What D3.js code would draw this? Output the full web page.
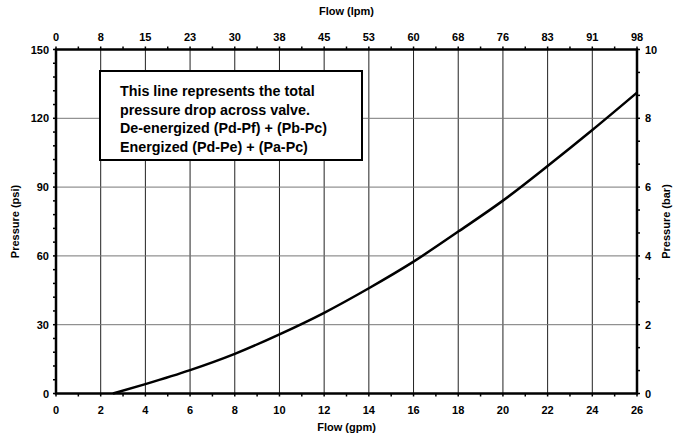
<!DOCTYPE html>
<html><head><meta charset="utf-8">
<script src="https://cdn.jsdelivr.net/npm/d3@7"></script>
<style>
body{margin:0;background:#fff;}
text{font-family:"Liberation Sans",Arial,sans-serif;font-weight:bold;fill:#000;}
</style></head>
<body><svg id="c" width="681" height="438"></svg>
<script>
const flowGpm = [2.55, 4, 6, 8, 10, 12, 14, 16, 18, 20, 22, 24, 26];
const pressurePsi = [0, 4.1, 10.2, 17.3, 25.8, 35.2, 45.9, 57.5, 70.6, 84.1, 99.2, 114.9, 131.2];
const gpmTicks = [0,2,4,6,8,10,12,14,16,18,20,22,24,26];
const lpmLabels = ["0","8","15","23","30","38","45","53","60","68","76","83","91","98"];
const psiTicks = [0,30,60,90,120,150];
const barTicks = [0,2,4,6,8,10];
const noteLines = ["This line represents the total","pressure drop across valve.","De-energized (Pd-Pf) + (Pb-Pc)","Energized (Pd-Pe) + (Pa-Pc)"];

const svg = d3.select("#c");
const L=56, R=637, T=49.5, B=393.5;
const x = d3.scaleLinear().domain([0,26]).range([L,R]);
const y = d3.scaleLinear().domain([0,150]).range([B,T]);
const yb = d3.scaleLinear().domain([0,10]).range([B,T]);

// grid
svg.append("g").selectAll("line").data(gpmTicks.slice(1,-1)).join("line")
  .attr("x1",d=>x(d)).attr("x2",d=>x(d)).attr("y1",T).attr("y2",B)
  .attr("stroke","#222").attr("stroke-width",1);
svg.append("g").selectAll("line").data(psiTicks.slice(1,-1)).join("line")
  .attr("x1",L).attr("x2",R).attr("y1",d=>y(d)).attr("y2",d=>y(d))
  .attr("stroke","#777").attr("stroke-width",1);

// minor ticks
const minorX = d3.range(0,27,1);
const minorY = d3.range(0,151,6);
const minorB = d3.range(0,16,1).map(i=>i*2/3);
const tk = svg.append("g").attr("stroke","#000").attr("stroke-width",1.5);
minorX.forEach(v=>{
  tk.append("line").attr("x1",x(v)).attr("x2",x(v)).attr("y1",B).attr("y2",B+3);
  tk.append("line").attr("x1",x(v)).attr("x2",x(v)).attr("y1",T).attr("y2",T-3);
});
minorY.forEach(v=>{
  tk.append("line").attr("x1",L-3).attr("x2",L).attr("y1",y(v)).attr("y2",y(v));
});
minorB.forEach(v=>{
  tk.append("line").attr("x1",R).attr("x2",R+3).attr("y1",yb(v)).attr("y2",yb(v));
});

// frame
svg.append("rect").attr("x",L).attr("y",T).attr("width",R-L).attr("height",B-T)
  .attr("fill","none").attr("stroke","#000").attr("stroke-width",2.5);

// tick labels
const fs = "11px";
svg.append("g").selectAll("text").data(gpmTicks).join("text")
  .attr("x",d=>x(d)).attr("y",B+20).attr("text-anchor","middle").attr("font-size",fs).text(d=>d);
svg.append("g").selectAll("text").data(gpmTicks).join("text")
  .attr("x",d=>x(d)).attr("y",T-9).attr("text-anchor","middle").attr("font-size",fs).text((d,i)=>lpmLabels[i]);
svg.append("g").selectAll("text").data(psiTicks).join("text")
  .attr("x",L-7).attr("y",d=>y(d)+4).attr("text-anchor","end").attr("font-size",fs).text(d=>d);
svg.append("g").selectAll("text").data(barTicks).join("text")
  .attr("x",R+8).attr("y",d=>yb(d)+4).attr("text-anchor","start").attr("font-size",fs).text(d=>d);

// axis titles
svg.append("text").attr("x",(L+R)/2).attr("y",15).attr("text-anchor","middle").attr("font-size","11px").text("Flow (lpm)");
svg.append("text").attr("x",(L+R)/2).attr("y",431).attr("text-anchor","middle").attr("font-size","11px").text("Flow (gpm)");
svg.append("text").attr("transform",`translate(19,${(T+B)/2}) rotate(-90)`).attr("text-anchor","middle").attr("font-size","11px").text("Pressure (psi)");
svg.append("text").attr("transform",`translate(670,${(T+B)/2}) rotate(-90)`).attr("text-anchor","middle").attr("font-size","11px").text("Pressure (bar)");

// curve
const pts = flowGpm.map((g,i)=>[g,pressurePsi[i]]);
svg.append("path").datum(pts)
  .attr("d",d3.line().x(d=>x(d[0])).y(d=>y(d[1])).curve(d3.curveMonotoneX))
  .attr("fill","none").attr("stroke","#000").attr("stroke-width",2.5);

// note box
svg.append("rect").attr("x",100).attr("y",71).attr("width",262).attr("height",89)
  .attr("fill","#fff").attr("stroke","#000").attr("stroke-width",2);
svg.append("g").selectAll("text").data(noteLines).join("text")
  .attr("x",120).attr("y",(d,i)=>96+i*18.7).attr("font-size","14.3px").text(d=>d);
</script></body></html>
